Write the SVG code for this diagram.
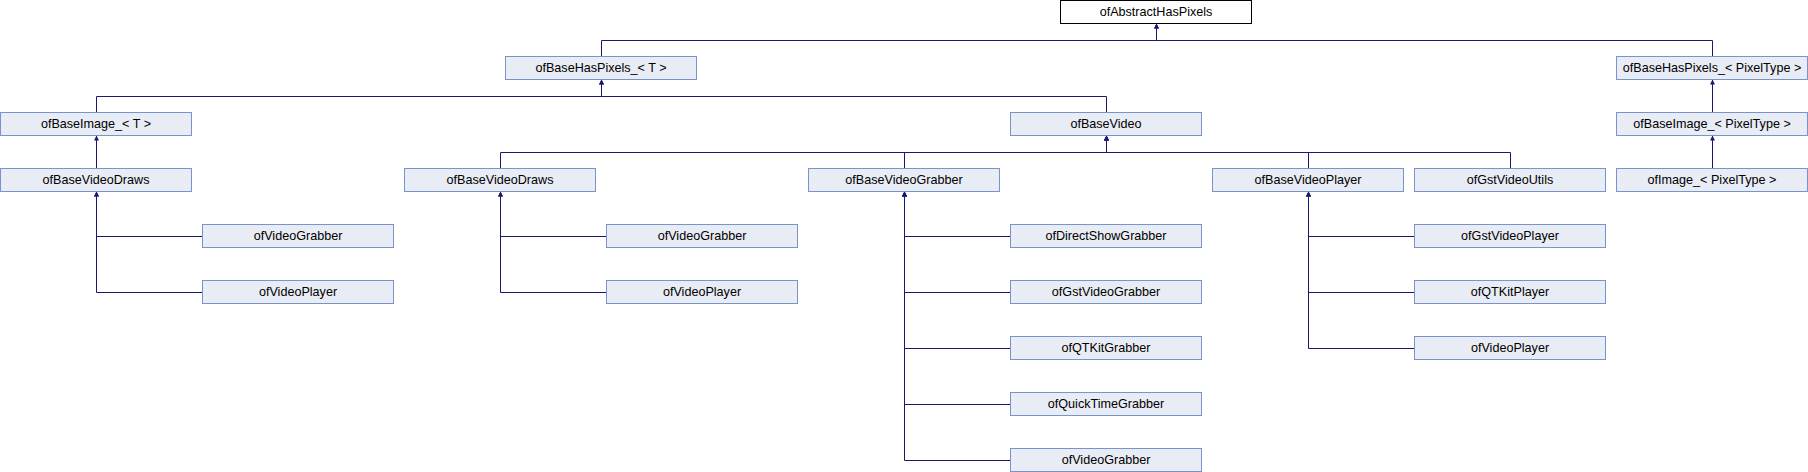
<svg xmlns="http://www.w3.org/2000/svg" width="1808" height="472" viewBox="0 0 1808 472">
<style>
.n rect{fill:#e8ecf5;stroke:#7b93cc;stroke-width:1}
.n.root rect{fill:#ffffff;stroke:#000000}
.n text{font-family:"Liberation Sans",Arial,sans-serif;font-size:12.6px;fill:#000;text-anchor:middle}
#edges path{fill:none;stroke:#191970;stroke-width:1}
</style>
<defs>
<marker id="ah" viewBox="0 0 10 10" refX="10" refY="5" markerUnits="userSpaceOnUse" markerWidth="7" markerHeight="5" orient="auto"><path d="M0,0L10,5L0,10z" fill="#191970"/></marker>
</defs>
<rect width="1808" height="472" fill="#fff"/>
<g id="edges">
<path d="M601.5,56.5V40.5H1156.5V23.5" marker-end="url(#ah)"/>
<path d="M1712.5,56.5V40.5H1156.5V23.5" marker-end="url(#ah)"/>
<path d="M96.5,112.5V96.5H601.5V79.5" marker-end="url(#ah)"/>
<path d="M1106.5,112.5V96.5H601.5V79.5" marker-end="url(#ah)"/>
<path d="M1712.5,112.5V79.5" marker-end="url(#ah)"/>
<path d="M1712.5,168.5V135.5" marker-end="url(#ah)"/>
<path d="M96.5,168.5V135.5" marker-end="url(#ah)"/>
<path d="M500.5,168.5V152.5H1106.5V135.5" marker-end="url(#ah)"/>
<path d="M904.5,168.5V152.5H1106.5V135.5" marker-end="url(#ah)"/>
<path d="M1308.5,168.5V152.5H1106.5V135.5" marker-end="url(#ah)"/>
<path d="M1510.5,168.5V152.5H1106.5V135.5" marker-end="url(#ah)"/>
<path d="M202.5,236.5H96.5V191.5" marker-end="url(#ah)"/>
<path d="M202.5,292.5H96.5V191.5" marker-end="url(#ah)"/>
<path d="M606.5,236.5H500.5V191.5" marker-end="url(#ah)"/>
<path d="M606.5,292.5H500.5V191.5" marker-end="url(#ah)"/>
<path d="M1010.5,236.5H904.5V191.5" marker-end="url(#ah)"/>
<path d="M1010.5,292.5H904.5V191.5" marker-end="url(#ah)"/>
<path d="M1010.5,348.5H904.5V191.5" marker-end="url(#ah)"/>
<path d="M1010.5,404.5H904.5V191.5" marker-end="url(#ah)"/>
<path d="M1010.5,460.5H904.5V191.5" marker-end="url(#ah)"/>
<path d="M1414.5,236.5H1308.5V191.5" marker-end="url(#ah)"/>
<path d="M1414.5,292.5H1308.5V191.5" marker-end="url(#ah)"/>
<path d="M1414.5,348.5H1308.5V191.5" marker-end="url(#ah)"/>
</g>
<g id="ofAbstractHasPixels" class="n root"><rect x="1060.5" y="0.5" width="191" height="23"/><text x="1156" y="16">ofAbstractHasPixels</text></g>
<g id="ofBaseHasPixels_T" class="n"><rect x="505.5" y="56.5" width="191" height="23"/><text x="601" y="72">ofBaseHasPixels_&lt; T &gt;</text></g>
<g id="ofBaseHasPixels_PixelType" class="n"><rect x="1616.5" y="56.5" width="191" height="23"/><text x="1712" y="72">ofBaseHasPixels_&lt; PixelType &gt;</text></g>
<g id="ofBaseImage_T" class="n"><rect x="0.5" y="112.5" width="191" height="23"/><text x="96" y="128">ofBaseImage_&lt; T &gt;</text></g>
<g id="ofBaseVideo" class="n"><rect x="1010.5" y="112.5" width="191" height="23"/><text x="1106" y="128">ofBaseVideo</text></g>
<g id="ofBaseImage_PixelType" class="n"><rect x="1616.5" y="112.5" width="191" height="23"/><text x="1712" y="128">ofBaseImage_&lt; PixelType &gt;</text></g>
<g id="ofBaseVideoDraws_1" class="n"><rect x="0.5" y="168.5" width="191" height="23"/><text x="96" y="184">ofBaseVideoDraws</text></g>
<g id="ofBaseVideoDraws_2" class="n"><rect x="404.5" y="168.5" width="191" height="23"/><text x="500" y="184">ofBaseVideoDraws</text></g>
<g id="ofBaseVideoGrabber" class="n"><rect x="808.5" y="168.5" width="191" height="23"/><text x="904" y="184">ofBaseVideoGrabber</text></g>
<g id="ofBaseVideoPlayer" class="n"><rect x="1212.5" y="168.5" width="191" height="23"/><text x="1308" y="184">ofBaseVideoPlayer</text></g>
<g id="ofGstVideoUtils" class="n"><rect x="1414.5" y="168.5" width="191" height="23"/><text x="1510" y="184">ofGstVideoUtils</text></g>
<g id="ofImage_PixelType" class="n"><rect x="1616.5" y="168.5" width="191" height="23"/><text x="1712" y="184">ofImage_&lt; PixelType &gt;</text></g>
<g id="ofVideoGrabber_1" class="n"><rect x="202.5" y="224.5" width="191" height="23"/><text x="298" y="240">ofVideoGrabber</text></g>
<g id="ofVideoPlayer_1" class="n"><rect x="202.5" y="280.5" width="191" height="23"/><text x="298" y="296">ofVideoPlayer</text></g>
<g id="ofVideoGrabber_2" class="n"><rect x="606.5" y="224.5" width="191" height="23"/><text x="702" y="240">ofVideoGrabber</text></g>
<g id="ofVideoPlayer_2" class="n"><rect x="606.5" y="280.5" width="191" height="23"/><text x="702" y="296">ofVideoPlayer</text></g>
<g id="ofDirectShowGrabber" class="n"><rect x="1010.5" y="224.5" width="191" height="23"/><text x="1106" y="240">ofDirectShowGrabber</text></g>
<g id="ofGstVideoGrabber" class="n"><rect x="1010.5" y="280.5" width="191" height="23"/><text x="1106" y="296">ofGstVideoGrabber</text></g>
<g id="ofQTKitGrabber" class="n"><rect x="1010.5" y="336.5" width="191" height="23"/><text x="1106" y="352">ofQTKitGrabber</text></g>
<g id="ofQuickTimeGrabber" class="n"><rect x="1010.5" y="392.5" width="191" height="23"/><text x="1106" y="408">ofQuickTimeGrabber</text></g>
<g id="ofVideoGrabber_3" class="n"><rect x="1010.5" y="448.5" width="191" height="23"/><text x="1106" y="464">ofVideoGrabber</text></g>
<g id="ofGstVideoPlayer" class="n"><rect x="1414.5" y="224.5" width="191" height="23"/><text x="1510" y="240">ofGstVideoPlayer</text></g>
<g id="ofQTKitPlayer" class="n"><rect x="1414.5" y="280.5" width="191" height="23"/><text x="1510" y="296">ofQTKitPlayer</text></g>
<g id="ofVideoPlayer_3" class="n"><rect x="1414.5" y="336.5" width="191" height="23"/><text x="1510" y="352">ofVideoPlayer</text></g>
</svg>
